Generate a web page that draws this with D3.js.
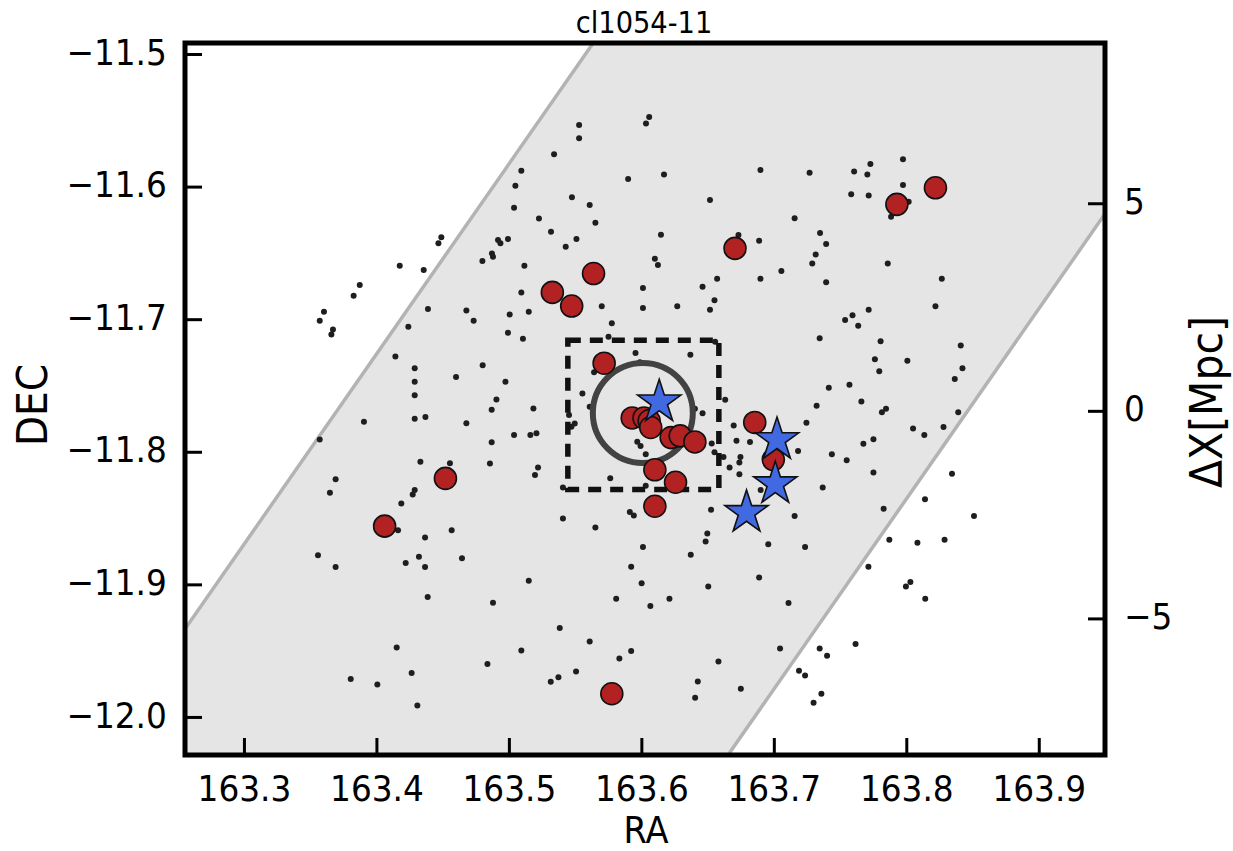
<!DOCTYPE html>
<html>
<head>
<meta charset="utf-8">
<script src="https://cdn.jsdelivr.net/npm/d3@7"></script>
<style>
  body { margin: 0; background: #fff; }
  text { font-family: "DejaVu Sans", sans-serif; fill: #000; }
</style>
</head>
<body>
<svg id="chart" width="1233" height="851"></svg>
<script>
// ---- data -------------------------------------------------------------
const titleText = "cl1054-11";
const raTicks  = [163.3, 163.4, 163.5, 163.6, 163.7, 163.8, 163.9];
const decTicks = [-11.5, -11.6, -11.7, -11.8, -11.9, -12.0];
const mpcTicks = [-5, 0, 5];

// survey strip edges (two parallel lines, RA/DEC end points)
const stripEdgeRA  = [[163.2575, 163.5626], [163.6653, 163.9493]];
const stripEdgeDEC = [[-11.9308, -11.4932], [-12.0289, -11.6215]];

// cluster centre, aperture radius (deg) and box extents
const centreRA = 163.6011, centreDEC = -11.7708, apertureDeg = 0.0377;
const boxRA  = [163.5445, 163.6585];
const boxDEC = [-11.8284, -11.7158];

// field galaxies
const dotRA = [
163.5530,163.5530,163.5341,163.5094,163.5049,163.5039,163.5476,163.5610,163.5227,163.5653,
163.5318,163.5510,163.5429,163.4918,163.4936,163.4993,163.4872,163.4880,163.4800,163.5117,
163.4490,163.4468,163.4176,163.4357,
163.6059,163.6035,163.5900,163.6171,163.6899,163.7270,163.7606,163.7729,163.7706,163.7975,
163.7975,163.7584,163.7716,163.8018,163.7885,163.6518,163.7157,163.6148,163.6102,163.6125,
163.6733,163.6889,163.7349,163.7395,163.7316,163.7290,163.7057,163.7860,163.6572,163.6899,
163.7395,163.8268,
163.3874,163.3828,163.3604,163.3572,163.3672,163.3660,163.4389,163.4241,163.4679,163.4734,
163.5006,163.5094,163.5150,163.4993,163.5106,163.5643,163.4143,163.4289,163.4289,163.4289,
163.4289,163.4370,163.4601,163.4802,163.4974,163.4906,163.4870,163.5185,163.5555,163.5610,
163.3906,163.3572,163.4679,163.5039,163.5162,163.5208,163.4870,163.5454,163.5497,163.5472,
163.4332,163.4555,163.4857,163.5220,163.5197,163.3692,163.3649,163.4289,163.4274,163.4188,
163.5408,163.5408,
163.6012,163.6462,163.5701,163.6012,163.6271,163.6552,163.6518,163.5777,163.8220,163.7716,
163.7594,163.7538,163.7637,163.7346,163.7806,163.8411,163.5752,163.6557,163.5956,163.6370,
163.5989,163.7763,163.8008,163.7796,163.8424,163.8366,163.7415,163.7571,163.7661,163.6633,
163.7323,163.6404,163.6462,163.7847,163.7816,163.8392,163.7246,163.6697,163.8051,163.8136,
163.8281,163.6718,163.6820,163.6531,163.7752,163.7676,163.7183,163.7438,163.7550,163.5969,
163.5994,163.6033,163.6552,163.6620,163.6748,163.6740,163.6666,163.6740,163.5765,163.6033,
163.6901,163.7369,163.7752,163.8345,163.8141,163.7829,163.8511,163.6526,163.5913,163.5943,
163.7157,
163.4163,163.4367,163.4568,163.5653,163.3559,163.3692,163.4221,163.4321,163.4367,163.4646,
163.5150,163.4387,163.4880,163.5384,163.5610,163.4153,163.5094,163.4838,163.3806,163.4007,
163.4266,163.4309,163.5316,163.5374,163.5507,
163.6012,163.6498,163.6485,163.6373,163.6958,163.7236,163.7872,163.8084,163.8289,163.5923,
163.6002,163.6505,163.6889,163.7714,163.8031,163.7997,163.8143,163.5810,163.6068,163.6212,
163.7111,163.5923,163.5834,163.6582,163.7047,163.7346,163.7402,163.7617,163.7190,163.7236,
163.7359,163.7300,163.6426,163.6406,163.6751
];
const dotDEC = [
-11.5536,-11.5636,-11.5757,-11.5880,-11.5994,-11.6160,-11.6081,-11.6139,-11.6240,-11.6273,
-11.6341,-11.6396,-11.6454,-11.6403,-11.6428,-11.6396,-11.6504,-11.6529,-11.6562,-11.6597,
-11.6383,-11.6428,-11.6597,-11.6630,
-11.5475,-11.5524,-11.5942,-11.5909,-11.5874,-11.5896,-11.5886,-11.5830,-11.5909,-11.5794,
-11.5988,-11.6057,-11.6067,-11.6114,-11.6228,-11.6101,-11.6239,-11.6363,-11.6545,-11.6591,
-11.6366,-11.6409,-11.6350,-11.6433,-11.6512,-11.6580,-11.6637,-11.6580,-11.6695,-11.6695,
-11.6721,-11.6695,
-11.6743,-11.6823,-11.6944,-11.7012,-11.7077,-11.7115,-11.6924,-11.7057,-11.6934,-11.7012,
-11.6964,-11.6798,-11.6944,-11.7103,-11.7148,-11.7401,-11.7281,-11.7371,-11.7472,-11.7573,
-11.7751,-11.7738,-11.7437,-11.7348,-11.7472,-11.7605,-11.7683,-11.7673,-11.7560,-11.7661,
-11.7774,-11.7907,-11.7784,-11.7874,-11.7874,-11.7861,-11.7929,-11.7723,-11.7786,-11.7812,
-11.8076,-11.8086,-11.8088,-11.8118,-11.8176,-11.8208,-11.8310,-11.8289,-11.8322,-11.8390,
-11.8269,-11.8503,
-11.6765,-11.6755,-11.6903,-11.6915,-11.6903,-11.6857,-11.6928,-11.7030,-11.6903,-11.6928,
-11.6971,-11.7007,-11.7050,-11.7143,-11.7166,-11.7199,-11.7133,-11.7170,-11.7255,-11.7268,
-11.7324,-11.7303,-11.7314,-11.7393,-11.7370,-11.7452,-11.7518,-11.7495,-11.7620,-11.7607,
-11.7653,-11.7676,-11.7709,-11.7676,-11.7702,-11.7702,-11.7781,-11.7801,-11.7824,-11.7873,
-11.7814,-11.7917,-11.7926,-11.7937,-11.7906,-11.7939,-11.7995,-11.8018,-11.8064,-11.7924,
-11.7957,-11.8018,-11.8003,-11.8039,-11.8039,-11.8080,-11.8118,-11.8169,-11.8199,-11.8256,
-11.8289,-11.8269,-11.8156,-11.8166,-11.8358,-11.8430,-11.8485,-11.8437,-11.8455,-11.8480,
-11.8485,
-11.8591,-11.8646,-11.8591,-11.8571,-11.8780,-11.8870,-11.8838,-11.8792,-11.8870,-11.8804,
-11.8973,-11.9096,-11.9139,-11.9330,-11.9431,-11.9476,-11.9498,-11.9600,-11.9713,-11.9755,
-11.9668,-11.9913,-11.9735,-11.9700,-11.9657,
-11.8719,-11.8617,-11.8676,-11.8776,-11.8697,-11.8719,-11.8663,-11.8686,-11.8663,-11.8868,
-11.8992,-11.9016,-11.8949,-11.8868,-11.8983,-11.9016,-11.9108,-11.9108,-11.9164,-11.9108,
-11.9141,-11.9503,-11.9560,-11.9582,-11.9483,-11.9483,-11.9539,-11.9449,-11.9652,-11.9687,
-11.9825,-11.9892,-11.9733,-11.9855,-11.9787
];

// spectroscopic members
const redRA  = [163.5639,163.5328,163.5474,163.6707,163.7929,163.8220,163.5719,163.5931,163.6020,163.6059,
                163.6071,163.6225,163.6293,163.6404,163.6102,163.6258,163.6102,163.6856,163.6996,163.4521,
                163.4062,163.5777];
const redDEC = [-11.6656,-11.6798,-11.6901,-11.6466,-11.6134,-11.6009,-11.7332,-11.7745,-11.7745,-11.7766,
                -11.7817,-11.7893,-11.7880,-11.7926,-11.8136,-11.8230,-11.8411,-11.7779,-11.8059,-11.8201,
                -11.8561,-11.9825];

// bright galaxies
const starRA  = [163.6135, 163.7024, 163.7011, 163.6794];
const starDEC = [-11.7625, -11.7910, -11.8242, -11.8459];

// ---- layout -----------------------------------------------------------
const L = 185, R = 1105, T = 43, B = 755;
const squash = 0.91;   // horizontal condensing of the label font

const svg = d3.select("#chart");
const x  = d3.scaleLinear().domain([163.2555, 163.95]).range([L, R]);
const y  = d3.scaleLinear().domain([-12.0287, -11.4917]).range([B, T]);
const yR = d3.scaleLinear().domain([-8.29, 8.86]).range([B, T]);

svg.append("defs").append("clipPath").attr("id", "plotClip")
  .append("rect").attr("x", L).attr("y", T).attr("width", R - L).attr("height", B - T);

const plot = svg.append("g").attr("clip-path", "url(#plotClip)");

// strip: extend each edge line past the frame, then clip
function edgeRA(i, dec) {
  const [a0, a1] = stripEdgeRA[i], [d0, d1] = stripEdgeDEC[i];
  return a0 + (dec - d0) * (a1 - a0) / (d1 - d0);
}
const decLo = -12.3, decHi = -11.2;
const stripPoly = [
  [edgeRA(0, decLo), decLo], [edgeRA(0, decHi), decHi],
  [edgeRA(1, decHi), decHi], [edgeRA(1, decLo), decLo]
];
plot.append("path")
  .attr("d", d3.line().x(d => x(d[0])).y(d => y(d[1]))(stripPoly) + "Z")
  .attr("fill", "#e5e5e5").attr("stroke", "none");
[0, 1].forEach(i => {
  plot.append("line")
    .attr("x1", x(edgeRA(i, decLo))).attr("y1", y(decLo))
    .attr("x2", x(edgeRA(i, decHi))).attr("y2", y(decHi))
    .attr("stroke", "#b3b3b3").attr("stroke-width", 3.5);
});

// field galaxies
plot.append("g").selectAll("circle").data(dotRA.map((ra, i) => [ra, dotDEC[i]]))
  .join("circle")
  .attr("cx", d => x(d[0])).attr("cy", d => y(d[1])).attr("r", 3)
  .attr("fill", "#1e1e1e");

// central box
plot.append("rect")
  .attr("x", x(boxRA[0])).attr("y", y(boxDEC[1]))
  .attr("width", x(boxRA[1]) - x(boxRA[0])).attr("height", y(boxDEC[0]) - y(boxDEC[1]))
  .attr("fill", "none").attr("stroke", "#111").attr("stroke-width", 5.5)
  .attr("stroke-dasharray", "13,9");

// aperture ring
plot.append("circle")
  .attr("cx", x(centreRA)).attr("cy", y(centreDEC))
  .attr("r", y(centreDEC - apertureDeg) - y(centreDEC))
  .attr("fill", "none").attr("stroke", "#424242").attr("stroke-width", 6);

// members
plot.append("g").selectAll("circle").data(redRA.map((ra, i) => [ra, redDEC[i]]))
  .join("circle")
  .attr("cx", d => x(d[0])).attr("cy", d => y(d[1])).attr("r", 11)
  .attr("fill", "#b22222").attr("stroke", "#111").attr("stroke-width", 1.6);

// stars
const starPath = d3.symbol(d3.symbolStar, 580)();
plot.append("g").selectAll("path").data(starRA.map((ra, i) => [ra, starDEC[i]]))
  .join("path")
  .attr("d", starPath)
  .attr("transform", d => `translate(${x(d[0])},${y(d[1])})`)
  .attr("fill", "#4169e1").attr("stroke", "#111").attr("stroke-width", 1.6)
  .attr("stroke-linejoin", "miter");

// ---- axes -------------------------------------------------------------
function styleAxis(g) {
  g.select(".domain").remove();
  g.selectAll(".tick line").attr("stroke", "#000").attr("stroke-width", 3);
  g.selectAll(".tick text").attr("font-size", 36)
    .attr("font-family", "DejaVu Sans, sans-serif").attr("fill", "#000");
}

svg.append("g").attr("transform", `translate(0,${B})`)
  .call(d3.axisBottom(x).tickValues(raTicks).tickFormat(d3.format(".1f"))
        .tickSize(-17).tickPadding(20))
  .call(styleAxis)
  .call(g => g.selectAll(".tick text").attr("transform", `scale(${squash},1)`));

svg.append("g").attr("transform", `translate(${L},0)`)
  .call(d3.axisLeft(y).tickValues(decTicks).tickFormat(d3.format(".1f"))
        .tickSize(-17).tickPadding(20))
  .call(styleAxis)
  .call(g => g.selectAll(".tick text").attr("dy", "0.28em")
                .attr("transform", `scale(${squash},1)`));

svg.append("g").attr("transform", `translate(${R},0)`)
  .call(d3.axisRight(yR).tickValues(mpcTicks).tickFormat(d3.format("d"))
        .tickSize(-17).tickPadding(21))
  .call(styleAxis)
  .call(g => g.selectAll(".tick text").attr("dy", "0.28em")
                .attr("transform", `scale(${squash},1)`));

// frame
svg.append("rect").attr("x", L).attr("y", T).attr("width", R - L).attr("height", B - T)
  .attr("fill", "none").attr("stroke", "#000").attr("stroke-width", 5);

// ---- labels -----------------------------------------------------------
function label(txt, tx, ty, size, rot) {
  svg.append("text")
    .attr("transform", `translate(${tx},${ty}) rotate(${rot}) scale(${squash},1)`)
    .attr("text-anchor", "middle").attr("font-size", size)
    .attr("y", rot ? 0.3645 * size : 0)
    .text(txt);
}
label(titleText, 644, 33, 30, 0);
label("RA", 646, 843, 37, 0);
label("DEC", 31, 405, 43, -90);
label("ΔX[Mpc]", 1206, 402, 45, -90);
</script>
</body>
</html>
